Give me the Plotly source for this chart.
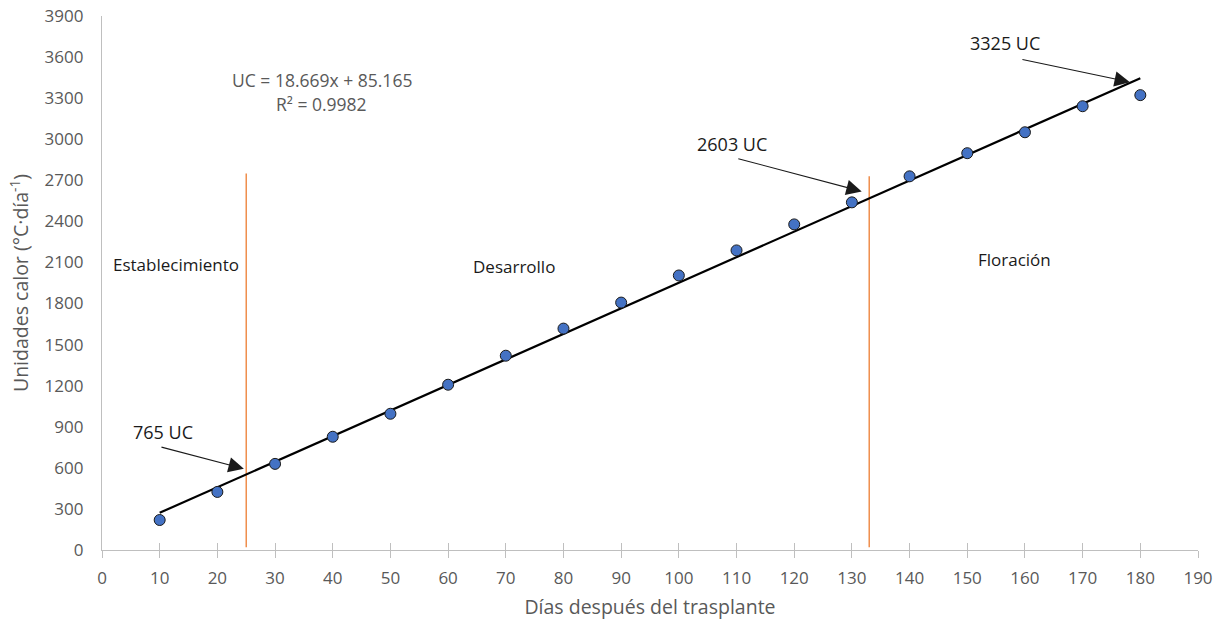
import plotly.graph_objects as go

# Data
dias = [10, 20, 30, 40, 50, 60, 70, 80, 90, 100, 110, 120, 130, 140, 150, 160, 170, 180]
uc = [219, 424, 629, 827, 995, 1207, 1419, 1617, 1807, 2005, 2188, 2378, 2539, 2729, 2898, 3051, 3241, 3322]
slope = 18.669
intercept = 85.165
r2 = 0.9982
trend_x = [10, 180]
phase_limits = [25, 133]
phase_line_top = [2750, 2730]
phase_labels = ["Establecimiento", "Desarrollo", "Floración"]
phase_label_x = [12.8, 71.4, 158.2]
phase_label_y = [2085, 2071, 2122]
uc_labels = ["765 UC", "2603 UC", "3325 UC"]
uc_text_xy = [(10.6, 863), (109.2, 2963), (156.5, 3702)]
uc_tail_xy = [(10.05, 754), (110.05, 2861), (159.3, 3585)]
uc_tip_xy = [(24.6, 593), (131.7, 2619), (178.2, 3417)]
x_ticks = list(range(0, 191, 10))
y_ticks = list(range(0, 3901, 300))

FONT = "Open Sans"
GRAY = "#595959"

fig = go.Figure()

# phase boundary lines
for xl, top in zip(phase_limits, phase_line_top):
    fig.add_trace(go.Scatter(x=[xl, xl], y=[20, top], mode="lines",
                             line=dict(color="#ED7D31", width=1.3),
                             showlegend=False, hoverinfo="skip"))

# trend line
trend_y = [slope * v + intercept for v in trend_x]
fig.add_trace(go.Scatter(x=trend_x, y=trend_y, mode="lines",
                         line=dict(color="black", width=2.2),
                         showlegend=False))

# data points
fig.add_trace(go.Scatter(x=dias, y=uc, mode="markers",
                         marker=dict(size=11, color="#4472C4",
                                     line=dict(color="#1a1a1a", width=1)),
                         showlegend=False))

# invisible overlay axis for inside tick marks on x
fig.add_trace(go.Scatter(x=[0, 190], y=[0, 0], xaxis="x2", mode="markers",
                         marker=dict(opacity=0), showlegend=False, hoverinfo="skip"))

annotations = []
for txt, (tx, ty) in zip(uc_labels, uc_text_xy):
    annotations.append(dict(x=tx, y=ty, text=txt, showarrow=False,
                            font=dict(family=FONT, size=18, color="#1a1a1a")))
for (ax_, ay_), (px, py) in zip(uc_tail_xy, uc_tip_xy):
    annotations.append(dict(x=px, y=py, ax=ax_, ay=ay_, axref="x", ayref="y",
                            xref="x", yref="y", text="", showarrow=True,
                            arrowhead=2, arrowsize=2.8, arrowwidth=1.1,
                            arrowcolor="#1a1a1a", standoff=0))
for txt, tx, ty in zip(phase_labels, phase_label_x, phase_label_y):
    annotations.append(dict(x=tx, y=ty, text=txt, showarrow=False,
                            font=dict(family=FONT, size=17, color="#1a1a1a")))
annotations.append(dict(x=38.1, y=3432, text=f"UC = {slope}x + {intercept}", showarrow=False,
                        font=dict(family=FONT, size=17.5, color=GRAY)))
annotations.append(dict(x=38.1, y=3256, text=f"R² = {r2}", showarrow=False,
                        font=dict(family=FONT, size=17.5, color=GRAY)))

fig.update_layout(
    width=1225, height=623,
    margin=dict(l=102, r=27, t=16, b=73),
    plot_bgcolor="white", paper_bgcolor="white",
    font=dict(family=FONT, color=GRAY),
    annotations=annotations,
    xaxis=dict(range=[0, 190], tickvals=x_ticks, showgrid=False, zeroline=False,
               automargin=False,
               showline=True, linecolor="#bfbfbf", linewidth=1.3,
               ticks="outside", ticklen=7, tickcolor="#bfbfbf", tickwidth=1.3,
               tickfont=dict(family=FONT, size=17, color=GRAY),
               ticklabelstandoff=5,
               title=dict(text="Días después del trasplante", standoff=12,
                          font=dict(family=FONT, size=19.5, color=GRAY))),
    xaxis2=dict(range=[0, 190], tickvals=x_ticks, overlaying="x", side="bottom",
                automargin=False,
                showgrid=False, zeroline=False, showline=False, showticklabels=False,
                ticks="inside", ticklen=7, tickcolor="#bfbfbf", tickwidth=1.3),
    yaxis=dict(range=[0, 3900], tickvals=y_ticks, showgrid=False, zeroline=False,
               automargin=False,
               showline=True, linecolor="#bfbfbf", linewidth=1.3, ticks="",
               tickfont=dict(family=FONT, size=17, color=GRAY),
               ticklabelstandoff=14,
               title=dict(text="Unidades calor (°C·día<sup>-1</sup>)", standoff=10,
                          font=dict(family=FONT, size=19.5, color=GRAY))),
)

fig.write_html("out.html")
